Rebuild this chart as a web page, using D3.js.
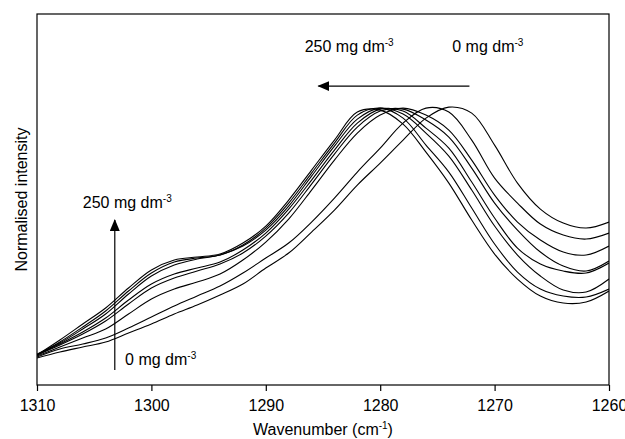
<!DOCTYPE html>
<html>
<head>
<meta charset="utf-8">
<script src="https://cdn.jsdelivr.net/npm/d3@7"></script>
<style>
  body { margin: 0; background: #fff; }
  text { font-family: Arial, "Liberation Sans", sans-serif; fill: #000; }
</style>
</head>
<body>
<div id="chart"></div>
<script>
// wavenumber grid (cm-1) the spectra were read at
var wavenumbers = [1310, 1308, 1306, 1304, 1302, 1300, 1298, 1296, 1294, 1292, 1290, 1288, 1286,
                   1284, 1282, 1280, 1278, 1276, 1274, 1272, 1270, 1268, 1266, 1264, 1262, 1260];

// intensities (a.u.), lowest concentration (0 mg dm-3) first, highest (250 mg dm-3) last
var spec1 = [27, 33, 38, 43, 52, 61, 71, 80, 90, 101, 117, 132, 153, 175, 200, 222, 245, 267, 278, 272, 240, 202, 176, 162, 157, 163];
var spec2 = [28, 36, 41, 47, 57, 68, 79, 89, 99, 112, 127, 142, 163, 187, 213, 237, 262, 277, 273, 245, 207, 182, 161, 150, 146, 152];
var spec3 = [29, 38, 47, 56, 71, 86, 96, 103, 111, 125, 143, 166, 195, 225, 252, 270, 277, 270, 255, 225, 190, 163, 145, 133, 130, 139];
var spec4 = [30, 40, 51, 64, 81, 97, 107, 114, 121, 132, 149, 172, 201, 231, 258, 274, 276, 265, 248, 217, 182, 155, 133, 119, 114, 124];
var spec5 = [30, 41, 53, 67, 85, 101, 111, 117, 123, 135, 152, 176, 205, 235, 262, 276, 274, 257, 237, 203, 167, 137, 121, 114, 112, 122];
var spec6 = [31, 42, 56, 71, 91, 109, 120, 126, 130, 139, 155, 179, 209, 239, 266, 277, 271, 252, 229, 195, 159, 130, 109, 95, 93, 106];
var spec7 = [30, 43, 58, 74, 94, 112, 123, 127, 130, 140, 157, 182, 212, 242, 270, 277, 267, 240, 213, 177, 141, 113, 96, 89, 88, 96];
var spec8 = [30, 45, 61, 77, 97, 115, 125, 128, 131, 142, 159, 185, 215, 245, 273, 275, 261, 233, 202, 165, 131, 106, 89, 82, 83, 94];

var xTicks = [1310, 1300, 1290, 1280, 1270, 1260];

var spectra = [spec1, spec2, spec3, spec4, spec5, spec6, spec7, spec8];

var margin = {top: 14, right: 16, bottom: 54, left: 37},
    width = 625 - margin.left - margin.right,
    height = 439 - margin.top - margin.bottom;

var x = d3.scaleLinear()
    .domain([1310, 1260])
    .range([0, width]);

var yMax = d3.max(spectra, function(s) { return d3.max(s); });
var y = d3.scaleLinear()
    .domain([0, yMax * 1.335])
    .range([height, 0]);

var svg = d3.select("#chart").append("svg")
    .attr("width", width + margin.left + margin.right)
    .attr("height", height + margin.top + margin.bottom)
  .append("g")
    .attr("transform", "translate(" + margin.left + "," + margin.top + ")");

svg.append("defs").append("clipPath")
    .attr("id", "clip")
  .append("rect")
    .attr("width", width)
    .attr("height", height);

svg.append("defs").append("marker")
    .attr("id", "head")
    .attr("viewBox", "0 0 12 10")
    .attr("refX", 11)
    .attr("refY", 5)
    .attr("markerWidth", 12)
    .attr("markerHeight", 10)
    .attr("markerUnits", "userSpaceOnUse")
    .attr("orient", "auto")
  .append("path")
    .attr("d", "M0,0L12,5L0,10Z")
    .attr("fill", "#000");

var line = d3.line()
    .x(function(d, i) { return x(wavenumbers[i]); })
    .y(function(d) { return y(d); })
    .curve(d3.curveCatmullRom.alpha(0.5));

svg.append("g")
    .attr("clip-path", "url(#clip)")
  .selectAll(".spectrum")
    .data(spectra)
  .enter().append("path")
    .attr("class", "spectrum")
    .attr("d", line)
    .attr("fill", "none")
    .attr("stroke", "#000")
    .attr("stroke-width", 1.1);

// frame
svg.append("rect")
    .attr("width", width)
    .attr("height", height)
    .attr("fill", "none")
    .attr("stroke", "#000")
    .attr("stroke-width", 1.2);

// x axis
var xAxis = svg.append("g")
    .attr("transform", "translate(0," + height + ")")
    .call(d3.axisBottom(x)
        .tickValues(xTicks)
        .tickFormat(d3.format("d"))
        .tickSize(6)
        .tickSizeOuter(0)
        .tickPadding(9));
xAxis.select(".domain").remove();
xAxis.selectAll("line").attr("stroke", "#000").attr("stroke-width", 1.2);
xAxis.selectAll("text")
    .attr("font-family", "Arial, 'Liberation Sans', sans-serif")
    .attr("font-size", 16);

// axis titles
var xTitle = svg.append("text")
    .attr("x", width / 2)
    .attr("y", height + 50)
    .attr("text-anchor", "middle")
    .style("font-size", "16px");
xTitle.append("tspan").text("Wavenumber (cm");
xTitle.append("tspan").attr("dy", -6).style("font-size", "10px").text("-1");
xTitle.append("tspan").attr("dy", 6).text(")");

svg.append("text")
    .attr("transform", "translate(-10," + (height / 2) + ") rotate(-90)")
    .attr("text-anchor", "middle")
    .style("font-size", "16px")
    .text("Normalised intensity");

// annotations (data coordinates)
function concLabel(g, wn, val, txt) {
  var t = g.append("text")
      .attr("x", x(wn))
      .attr("y", y(val))
      .style("font-size", "16px");
  t.append("tspan").text(txt + " mg dm");
  t.append("tspan").attr("dy", -6).style("font-size", "10px").text("-3");
}

svg.append("line")
    .attr("x1", x(1272.2)).attr("y1", y(299))
    .attr("x2", x(1285.4)).attr("y2", y(299))
    .attr("stroke", "#000").attr("stroke-width", 1.2)
    .attr("marker-end", "url(#head)");

svg.append("line")
    .attr("x1", x(1303.2)).attr("y1", y(15))
    .attr("x2", x(1303.2)).attr("y2", y(165))
    .attr("stroke", "#000").attr("stroke-width", 1.2)
    .attr("marker-end", "url(#head)");

concLabel(svg, 1286.6, 333, "250");
concLabel(svg, 1273.7, 333, "0");
concLabel(svg, 1306.0, 177, "250");
concLabel(svg, 1302.3, 20, "0");
</script>
</body>
</html>
